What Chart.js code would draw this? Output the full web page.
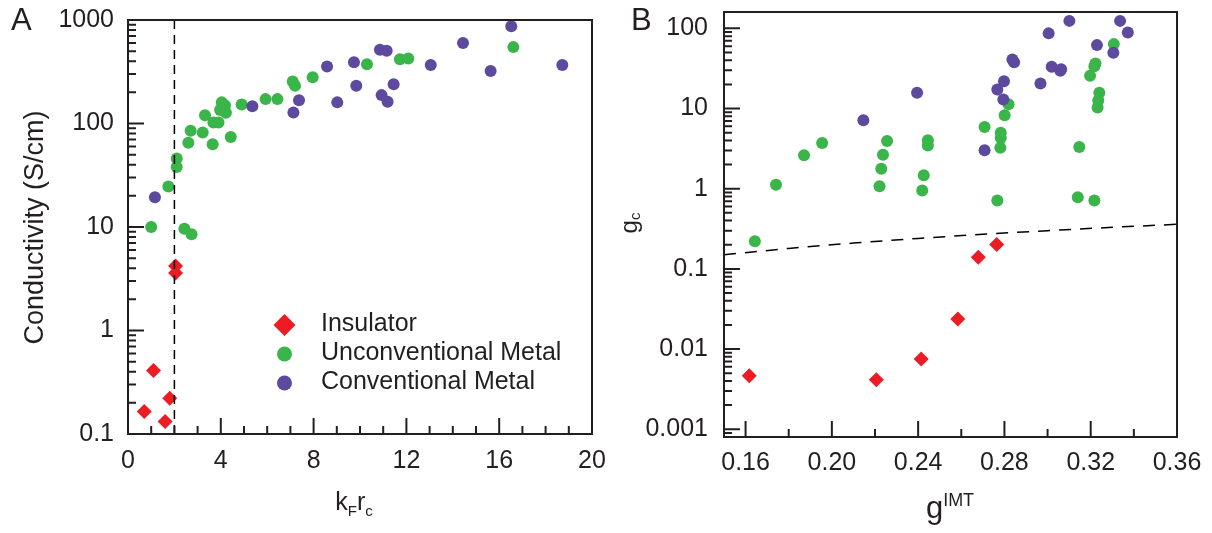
<!DOCTYPE html>
<html>
<head>
<meta charset="utf-8">
<title>Conductivity vs kFrc and gc vs gIMT</title>
<script src="https://cdn.jsdelivr.net/npm/chart.js@4.4.1/dist/chart.umd.min.js"></script>
<style>
  html, body { margin: 0; padding: 0; background: #fff; }
  #wrap { position: relative; width: 1212px; height: 533px; }
  .panel { position: absolute; top: 0; width: 606px; height: 533px; }
  #panelA { left: 0; }
  #panelB { left: 606px; }
</style>
</head>
<body>
<div id="wrap">
  <div class="panel" id="panelA"><canvas id="chartA" width="606" height="533"></canvas></div>
  <div class="panel" id="panelB"><canvas id="chartB" width="606" height="533"></canvas></div>
</div>
<script>
// ===============================
// DATA - panel A (conductivity vs kF rc)
// ===============================
const insulatorKx = [0.7, 1.1, 1.6, 1.8, 2.05, 2.05];
const insulatorSigma = [0.165, 0.41, 0.132, 0.222, 4.2, 3.6];

const unconvKx = [1.0, 1.74, 2.1, 2.1, 2.43, 2.74, 2.6, 2.7, 3.22, 3.32, 3.65, 3.68, 3.9, 3.97,
  4.04, 4.18, 4.22, 4.43, 4.9, 5.93, 6.44, 7.1, 7.2, 7.96, 10.3, 11.72, 12.08, 16.61];
const unconvSigma = [10, 24.6, 46, 38, 9.6, 8.5, 65, 85, 82, 120, 63, 102, 102, 135,
  160, 150, 127, 74, 153, 172, 172, 254, 232, 280, 374, 418, 425, 547];

const convKx = [1.16, 5.36, 7.13, 7.37, 8.58, 9.02, 9.74, 9.84, 10.86, 11.15, 10.93, 11.19,
  11.45, 13.05, 14.44, 15.63, 16.52, 18.72];
const convSigma = [19.4, 147, 128, 168, 355, 160, 391, 232, 515, 504, 188, 162,
  239, 368, 598, 322, 869, 368];

// vertical dashed line at kF rc = 2
const cutKx = [2, 2];
const cutSigma = [0.1, 1000];

const xTicksA = [0, 4, 8, 12, 16, 20];
const xMinorA = [1, 2, 3, 5, 6, 7, 9, 10, 11, 13, 14, 15, 17, 18, 19];
const yTicksA = [0.1, 1, 10, 100, 1000];

// ===============================
// DATA - panel B (gc vs gIMT)
// ===============================
const insulatorG = [0.1617, 0.2206, 0.2414, 0.2584, 0.2679, 0.2764];
const insulatorGc = [0.00464, 0.00413, 0.0075, 0.0237, 0.14, 0.201];

const unconvG = [0.1643, 0.1741, 0.1871, 0.1955, 0.2256, 0.2237, 0.2229, 0.2221, 0.2445, 0.2445,
  0.2426, 0.2419, 0.2708, 0.2767, 0.2783, 0.2783, 0.2781, 0.2801, 0.2819, 0.3147,
  0.3140, 0.3217, 0.3197, 0.3217, 0.3222, 0.324, 0.3235, 0.3232, 0.3307];
const unconvGc = [0.221, 1.12, 2.61, 3.72, 3.94, 2.66, 1.78, 1.07, 4.02, 3.47,
  1.47, 0.95, 5.89, 0.714, 5.0, 4.29, 3.25, 8.24, 11.3, 3.31,
  0.785, 0.714, 25.6, 33.8, 36.5, 15.7, 12.7, 10.3, 63.6];

const convG = [0.2146, 0.2395, 0.2708, 0.2795, 0.2767, 0.2798, 0.2837, 0.2845, 0.2967, 0.3005,
  0.3019, 0.3063, 0.3059, 0.3101, 0.3229, 0.3305, 0.3336, 0.3372];
const convGc = [7.14, 15.7, 3.01, 12.96, 17.3, 21.9, 41, 37.9, 20.5, 86.6,
  33.1, 31, 29.5, 124, 61.8, 49.5, 124, 89];

// dashed boundary gc = gIMT
const boundG = [0.15, 0.18, 0.21, 0.24, 0.27, 0.30, 0.33, 0.36];
const boundGc = [0.15, 0.18, 0.21, 0.24, 0.27, 0.30, 0.33, 0.36];

const xTicksB = [0.16, 0.20, 0.24, 0.28, 0.32, 0.36];
const xMinorB = [0.18, 0.22, 0.26, 0.30, 0.34];
const yTicksB = [0.001, 0.01, 0.1, 1, 10, 100];

// ===============================
// STYLE
// ===============================
const FONT = '"Liberation Sans", Arial, Helvetica, sans-serif';
const INK = '#231f20';
const RED = '#ed1c24';
const GREEN = '#39b54a';
const PURPLE = '#5d4a9e';

Chart.defaults.font.family = FONT;
Chart.defaults.color = INK;

const pts = (xs, ys) => xs.map((x, i) => ({ x: x, y: ys[i] }));

function seriesSet(insX, insY, uX, uY, cX, cY, lineX, lineY, dash) {
  return [
    {
      label: 'guide', data: pts(lineX, lineY), showLine: true, borderColor: '#000',
      borderWidth: 1.5, borderDash: dash, pointRadius: 0, fill: false
    },
    {
      label: 'Conventional Metal', data: pts(cX, cY), backgroundColor: PURPLE,
      pointStyle: 'circle', pointRadius: 6, pointBorderWidth: 0
    },
    {
      label: 'Unconventional Metal', data: pts(uX, uY), backgroundColor: GREEN,
      pointStyle: 'circle', pointRadius: 6, pointBorderWidth: 0
    },
    {
      label: 'Insulator', data: pts(insX, insY), backgroundColor: RED,
      pointStyle: 'rectRot', pointRadius: 7.5, pointBorderWidth: 0
    }
  ];
}

// frame + inward ticks (major and minor)
const frameTicks = {
  id: 'frameTicks',
  afterDraw(chart, args, opts) {
    const { ctx, chartArea: a, scales } = chart;
    const xs = scales.x, ys = scales.y;
    ctx.save();
    ctx.strokeStyle = INK;
    ctx.lineWidth = 2;
    ctx.strokeRect(a.left, a.top, a.right - a.left, a.bottom - a.top);
    ctx.beginPath();
    opts.xMajor.forEach(v => {
      const px = xs.getPixelForValue(v);
      ctx.moveTo(px, a.bottom); ctx.lineTo(px, a.bottom - 16);
    });
    opts.xMinor.forEach(v => {
      const px = xs.getPixelForValue(v);
      ctx.moveTo(px, a.bottom); ctx.lineTo(px, a.bottom - 8);
    });
    const d0 = Math.floor(Math.log10(ys.min)), d1 = Math.ceil(Math.log10(ys.max));
    for (let d = d0; d <= d1; d++) {
      for (let k = 1; k <= 9; k++) {
        const v = k * Math.pow(10, d);
        if (v < ys.min * 0.999 || v > ys.max * 1.001) continue;
        const py = ys.getPixelForValue(v);
        ctx.moveTo(a.left, py); ctx.lineTo(a.left + (k === 1 ? 16 : 8), py);
      }
    }
    ctx.stroke();
    ctx.restore();
  }
};

// text with sub / superscripts, centred on cx
function drawRich(ctx, parts, cx, baseY) {
  let total = 0;
  parts.forEach(p => { ctx.font = p[1] + 'px ' + FONT; total += ctx.measureText(p[0]).width; });
  let xx = cx - total / 2;
  ctx.textAlign = 'left';
  ctx.textBaseline = 'alphabetic';
  parts.forEach(p => {
    ctx.font = p[1] + 'px ' + FONT;
    ctx.fillText(p[0], xx, baseY + p[2]);
    xx += ctx.measureText(p[0]).width;
  });
}

const titlesA = {
  id: 'titlesA',
  afterDraw(chart) {
    const ctx = chart.ctx;
    ctx.save();
    ctx.fillStyle = INK;
    ctx.font = '31px ' + FONT;
    ctx.textBaseline = 'alphabetic';
    ctx.fillText('A', 11, 30);
    drawRich(ctx, [['k', 25, 0], ['F', 15, 5.5], ['r', 25, 0], ['c', 15, 5.5]], 354, 510);
    ctx.save();
    ctx.translate(43, 227.5);
    ctx.rotate(-Math.PI / 2);
    drawRich(ctx, [['Conductivity (S/cm)', 27, 0]], 0, 0);
    ctx.restore();

    // legend
    const items = [
      ['Insulator', RED, 'diamond', 325],
      ['Unconventional Metal', GREEN, 'circle', 354],
      ['Conventional Metal', PURPLE, 'circle', 383]
    ];
    items.forEach(it => {
      const mx = 284.5, my = it[3];
      ctx.fillStyle = it[1];
      ctx.beginPath();
      if (it[2] === 'diamond') {
        ctx.moveTo(mx - 11, my); ctx.lineTo(mx, my - 11);
        ctx.lineTo(mx + 11, my); ctx.lineTo(mx, my + 11);
        ctx.closePath();
      } else {
        ctx.arc(mx, my, 7.5, 0, Math.PI * 2);
      }
      ctx.fill();
      ctx.fillStyle = INK;
      ctx.font = '25px ' + FONT;
      ctx.textAlign = 'left';
      ctx.textBaseline = 'middle';
      ctx.fillText(it[0], 321, my - 1);
    });
    ctx.restore();
  }
};

const titlesB = {
  id: 'titlesB',
  afterDraw(chart) {
    const ctx = chart.ctx;
    ctx.save();
    ctx.fillStyle = INK;
    ctx.font = '31px ' + FONT;
    ctx.textBaseline = 'alphabetic';
    ctx.fillText('B', 25, 30);
    drawRich(ctx, [['g', 31, 0], ['IMT', 18, -12.5]], 344, 518);
    ctx.save();
    ctx.translate(30.5, 223);
    ctx.rotate(-Math.PI / 2);
    drawRich(ctx, [['g', 24, 0], ['c', 15, 3]], 0, 0);
    ctx.restore();
    ctx.restore();
  }
};

function axisX(min, max, ticks, fmt, height, pad) {
  return {
    type: 'linear', position: 'bottom', min: min, max: max,
    grid: { display: false, drawTicks: false },
    border: { display: false },
    ticks: {
      font: { size: 25 }, color: INK, padding: pad, autoSkip: false, maxRotation: 0,
      callback: fmt
    },
    afterBuildTicks: s => { s.ticks = ticks.map(v => ({ value: v })); },
    afterFit: s => { s.height = height; s.paddingLeft = 0; s.paddingRight = 0; }
  };
}

function axisY(min, max, ticks, width, pad) {
  return {
    type: 'logarithmic', position: 'left', min: min, max: max,
    grid: { display: false, drawTicks: false },
    border: { display: false },
    ticks: {
      font: { size: 25 }, color: INK, padding: pad, autoSkip: false,
      callback: v => String(v)
    },
    afterBuildTicks: s => { s.ticks = ticks.map(v => ({ value: v })); },
    afterFit: s => { s.width = width; s.paddingTop = 0; s.paddingBottom = 0; }
  };
}

// ===============================
// PANEL A
// ===============================
new Chart(document.getElementById('chartA'), {
  type: 'scatter',
  data: {
    datasets: seriesSet(insulatorKx, insulatorSigma, unconvKx, unconvSigma,
      convKx, convSigma, cutKx, cutSigma, [9, 6])
  },
  options: {
    responsive: false,
    animation: false,
    events: [],
    layout: { padding: { left: 0, top: 20, right: 14, bottom: 0 } },
    scales: {
      x: axisX(0, 20, xTicksA, v => String(v), 99, 12),
      y: axisY(0.1, 1000, yTicksA, 128, 14)
    },
    plugins: {
      legend: { display: false },
      tooltip: { enabled: false },
      frameTicks: { xMajor: xTicksA, xMinor: xMinorA }
    }
  },
  plugins: [frameTicks, titlesA]
});

// ===============================
// PANEL B
// ===============================
new Chart(document.getElementById('chartB'), {
  type: 'scatter',
  data: {
    datasets: seriesSet(insulatorG, insulatorGc, unconvG, unconvGc,
      convG, convGc, boundG, boundGc, [12, 9])
  },
  options: {
    responsive: false,
    animation: false,
    events: [],
    layout: { padding: { left: 0, top: 12, right: 35, bottom: 0 } },
    scales: {
      x: axisX(0.15, 0.36, xTicksB, v => v.toFixed(2), 96, 11),
      y: axisY(0.0008, 160, yTicksB, 118, 16)
    },
    plugins: {
      legend: { display: false },
      tooltip: { enabled: false },
      frameTicks: { xMajor: xTicksB, xMinor: xMinorB }
    }
  },
  plugins: [frameTicks, titlesB]
});
</script>
</body>
</html>
